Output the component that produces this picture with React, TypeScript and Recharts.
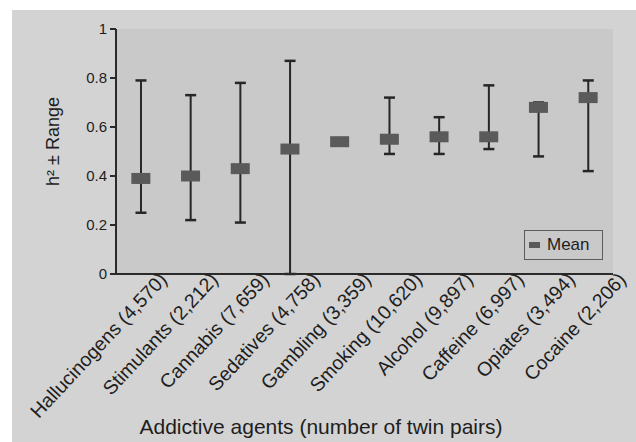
import React from "react";
import { ComposedChart, Bar, Scatter, XAxis, YAxis, CartesianGrid, Legend, Label } from "recharts";

// Addictive agents (twin pairs), heritability mean and range
const categories = [
  "Hallucinogens (4,570)",
  "Stimulants (2,212)",
  "Cannabis (7,659)",
  "Sedatives (4,758)",
  "Gambling (3,359)",
  "Smoking (10,620)",
  "Alcohol (9,897)",
  "Caffeine (6,997)",
  "Opiates (3,494)",
  "Cocaine (2,206)",
];
const means = [0.39, 0.4, 0.43, 0.51, 0.54, 0.55, 0.56, 0.56, 0.68, 0.72];
const lows = [0.25, 0.22, 0.21, 0.0, null, 0.49, 0.49, 0.51, 0.48, 0.42];
const highs = [0.79, 0.73, 0.78, 0.87, null, 0.72, 0.64, 0.77, 0.7, 0.79];
const yTicks = [0, 0.2, 0.4, 0.6, 0.8, 1];

const data = categories.map((name, i) => ({
  name,
  mean: means[i],
  range: lows[i] == null || highs[i] == null ? null : [lows[i], highs[i]],
}));

const FONT = '"Liberation Sans", Arial, Helvetica, sans-serif';
const INK = "#1e1e1e";

const Whisker = (props: any) => {
  const { x, y, width, height } = props;
  if (!isFinite(x) || !isFinite(y) || !height) return null;
  const cx = x + width / 2;
  return (
    <g stroke="#262626" strokeWidth={2}>
      <line x1={cx} x2={cx} y1={y} y2={y + height} />
      <line x1={cx - 5.5} x2={cx + 5.5} y1={y} y2={y} strokeWidth={2.5} />
      <line x1={cx - 5.5} x2={cx + 5.5} y1={y + height} y2={y + height} strokeWidth={2.5} />
    </g>
  );
};

const MeanBox = (props: any) => {
  const { cx, cy } = props;
  return <rect x={cx - 9.5} y={cy - 5.5} width={19} height={11} fill="#5a5a5a" />;
};

const XTick = (props: any) => {
  const { x, y, payload, index } = props;
  const ax = x + 17 + index * 1.3;
  const ay = y - 3;
  return (
    <text
      x={ax}
      y={ay}
      dy="0.72em"
      textAnchor="end"
      transform={`rotate(-47 ${ax} ${ay})`}
      fontSize={19.5}
      fontFamily={FONT}
      fill={INK}
    >
      {payload.value}
    </text>
  );
};

const MeanLegend = () => (
  <div
    style={{
      width: 79,
      height: 30,
      boxSizing: "border-box",
      border: "1px solid #5c5c5c",
      display: "flex",
      alignItems: "center",
      paddingLeft: 4,
      fontSize: 17,
      fontFamily: FONT,
      color: INK,
    }}
  >
    <span style={{ display: "inline-block", width: 11, height: 6, background: "#5a5a5a", marginRight: 7 }} />
    Mean
  </div>
);

export default function App() {
  return (
    <div style={{ position: "absolute", left: 0, top: 0, width: 636, height: 442, background: "#fff" }}>
      <div style={{ position: "absolute", left: 12, top: 10, width: 624, height: 432, background: "#d3d3d3" }}>
        <ComposedChart
          width={624}
          height={432}
          data={data}
          margin={{ top: 19, right: 23, left: 0, bottom: 0 }}
        >
          <CartesianGrid horizontal={false} vertical={false} fill="#c9c9c9" stroke="none" />
          <XAxis
            dataKey="name"
            height={168}
            interval={0}
            tickLine={false}
            tickSize={0}
            tickMargin={0}
            axisLine={{ stroke: "#2a2a2a", strokeWidth: 2 }}
            tick={<XTick />}
          >
            <Label
              content={(p: any) => {
                const vb = p.viewBox;
                return (
                  <text x={309} y={vb.y + 160} textAnchor="middle" fontSize={21} fontFamily={FONT} fill={INK}>
                    Addictive agents (number of twin pairs)
                  </text>
                );
              }}
            />
          </XAxis>
          <YAxis
            width={104}
            domain={[0, 1]}
            ticks={yTicks}
            tickSize={6}
            tickMargin={3}
            axisLine={{ stroke: "#2a2a2a", strokeWidth: 2 }}
            tickLine={{ stroke: "#2a2a2a", strokeWidth: 2 }}
            tick={{ fontSize: 15, fontFamily: FONT, fill: INK }}
          >
            <Label
              content={(p: any) => {
                const vb = p.viewBox;
                const cx = vb.x + 41;
                const cy = vb.y + vb.height / 2 - 10;
                return (
                  <text
                    x={cx}
                    y={cy}
                    transform={`rotate(-90 ${cx} ${cy})`}
                    textAnchor="middle"
                    dominantBaseline="central"
                    fontSize={18}
                    fontFamily={FONT}
                    fill={INK}
                  >
                    h² ± Range
                  </text>
                );
              }}
            />
          </YAxis>
          <Bar dataKey="range" shape={<Whisker />} legendType="none" isAnimationActive={false} />
          <Scatter dataKey="mean" name="Mean" shape={<MeanBox />} isAnimationActive={false} />
          <Legend
            layout="vertical"
            align="center"
            verticalAlign="middle"
            content={<MeanLegend />}
            wrapperStyle={{ left: 512, top: 220, width: 79, height: 30 }}
          />
        </ComposedChart>
      </div>
    </div>
  );
}
